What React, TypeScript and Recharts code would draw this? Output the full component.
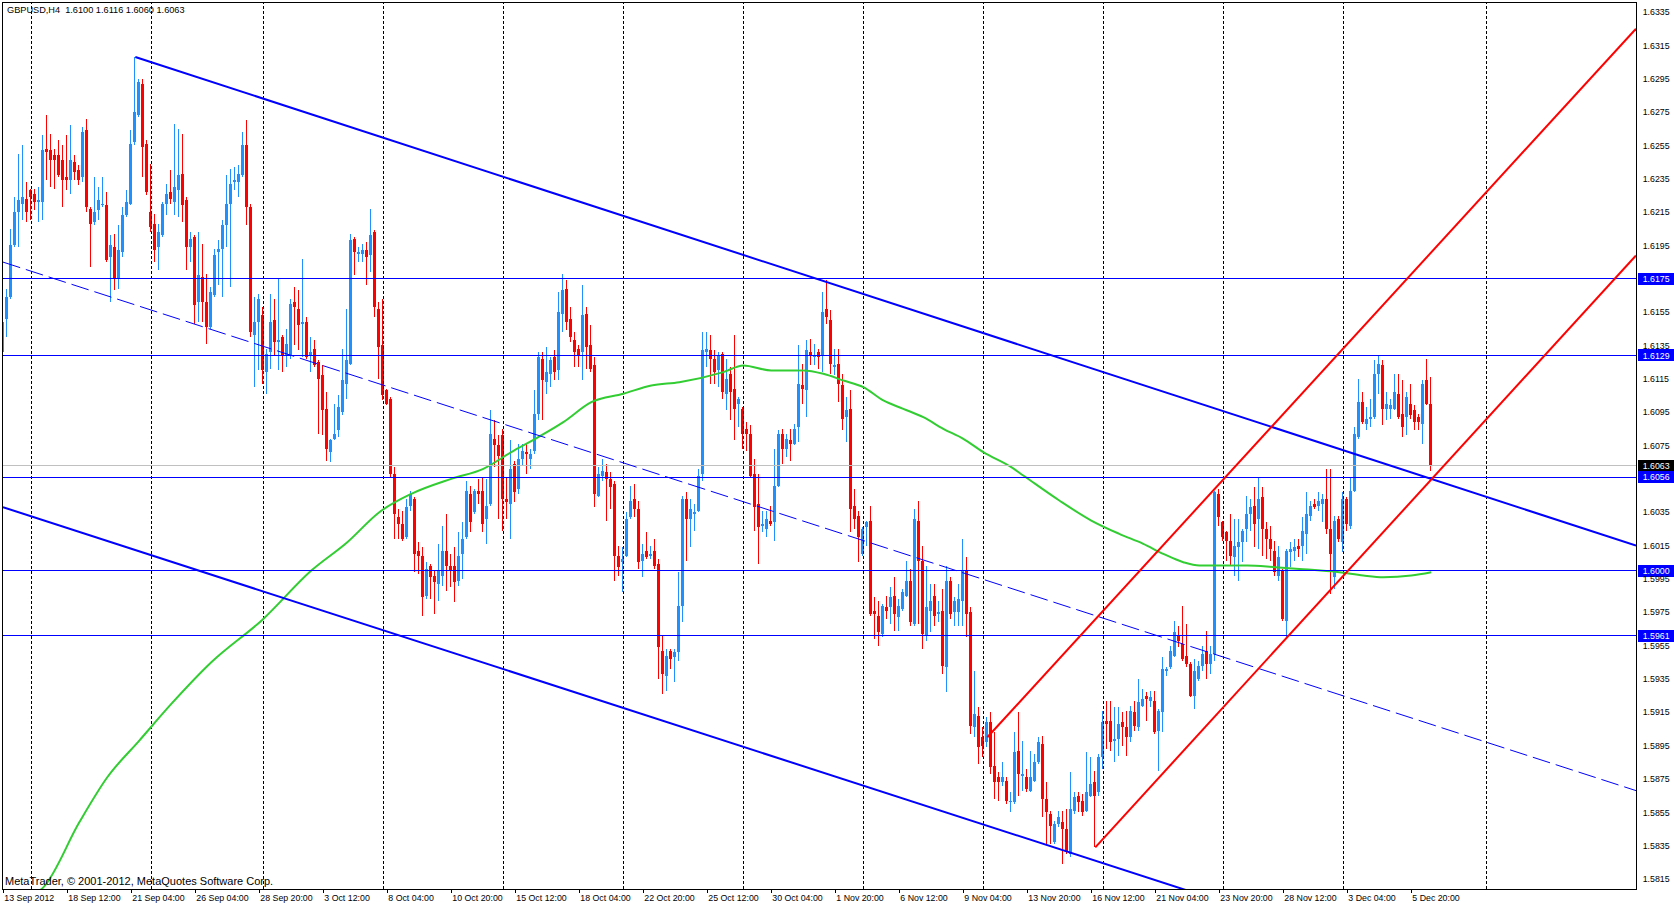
import React from "react";
import { ComposedChart, XAxis, YAxis, Bar, Line, ReferenceLine } from "recharts";

const FONT = "'Liberation Sans', Arial, sans-serif";
const BULL = "#1E90FF";
const BEAR = "#FF0000";
const LEVEL = "#0000FF";

// H4 bars, oldest first
const opens = [
  1.6131,1.6151,1.6164,1.6195,1.6215,1.6220,1.6223,1.6228,1.6226,1.6221,
  1.6221,1.6253,1.6252,1.6249,1.6249,1.6246,1.6236,1.6234,1.6245,1.6240,
  1.6236,1.6264,1.6217,1.6209,1.6216,1.6219,1.6219,1.6188,1.6194,1.6175,
  1.6191,1.6213,1.6220,1.6257,1.6273,1.6292,1.6256,1.6215,1.6208,1.6194,
  1.6201,1.6220,1.6227,1.6221,1.6228,1.6238,1.6222,1.6194,1.6200,1.6161,
  1.6176,1.6161,1.6146,1.6165,1.6191,1.6193,1.6207,1.6220,1.6233,1.6233,
  1.6237,1.6255,1.6218,1.6141,1.6149,1.6153,1.6119,1.6131,1.6150,1.6137,
  1.6140,1.6129,1.6129,1.6161,1.6157,1.6148,1.6149,1.6129,1.6133,1.6125,
  1.6117,1.6097,1.6071,1.6079,1.6084,1.6095,1.6112,1.6124,1.6199,1.6190,
  1.6190,1.6192,1.6189,1.6203,1.6157,1.6135,1.6108,1.6103,1.6058,1.6032,
  1.6028,1.6020,1.6039,1.6043,1.6012,1.6009,1.5985,1.6003,1.5997,1.5992,
  1.5997,1.6012,1.6003,1.6003,1.5994,1.6010,1.6020,1.6046,1.6035,1.6048,
  1.6048,1.6031,1.6040,1.6079,1.6075,1.6081,1.6043,1.6040,1.6064,1.6049,
  1.6067,1.6071,1.6067,1.6072,1.6094,1.6127,1.6113,1.6118,1.6128,1.6120,
  1.6154,1.6169,1.6151,1.6138,1.6133,1.6131,1.6154,1.6135,1.6123,1.6045,
  1.6057,1.6059,1.6055,1.6052,1.6009,1.6005,1.6009,1.6032,1.6043,1.6037,
  1.6006,1.6012,1.6009,1.6012,1.6004,1.5952,1.5937,1.5952,1.5948,1.5951,
  1.5979,1.6043,1.6031,1.6034,1.6036,1.6058,1.6131,1.6132,1.6127,1.6120,
  1.6130,1.6106,1.6118,1.6109,1.6100,1.6097,1.6085,1.6082,1.6058,1.6040,
  1.6027,1.6025,1.6030,1.6029,1.6051,1.6082,1.6073,1.6078,1.6076,1.6086,
  1.6111,1.6108,1.6131,1.6128,1.6131,1.6129,1.6157,1.6150,1.6122,1.6124,
  1.6111,1.6092,1.6097,1.6039,1.6033,1.6010,1.6026,1.6030,1.5976,1.5973,
  1.5962,1.5978,1.5978,1.5985,1.5972,1.5977,1.5985,1.5994,1.5968,1.6030,
  1.6006,1.5961,1.5976,1.5985,1.5974,1.5976,1.5942,1.5994,1.5975,1.5975,
  1.5982,1.6000,1.5975,1.5906,1.5913,1.5900,1.5897,1.5909,1.5883,1.5876,
  1.5873,1.5874,1.5861,1.5861,1.5892,1.5877,1.5876,1.5868,1.5874,1.5885,
  1.5896,1.5863,1.5854,1.5837,1.5848,1.5849,1.5845,1.5830,1.5856,1.5865,
  1.5862,1.5856,1.5865,1.5873,1.5867,1.5888,1.5910,1.5910,1.5898,1.5899,
  1.5909,1.5906,1.5900,1.5915,1.5906,1.5919,1.5925,1.5922,1.5922,1.5904,
  1.5915,1.5940,1.5942,1.5949,1.5961,1.5956,1.5949,1.5944,1.5925,1.5935,
  1.5943,1.5952,1.5944,1.5950,1.6046,1.6029,1.6023,1.6018,1.6008,1.6014,
  1.6017,1.6025,1.6034,1.6039,1.6031,1.6044,1.6025,1.6019,1.6012,1.5997,
  1.6000,1.5970,1.6011,1.6012,1.6015,1.6015,1.6022,1.6033,1.6040,1.6039,
  1.6040,1.6043,1.6025,1.5996,1.6031,1.6017,1.6043,1.6027,1.6048,1.6080,
  1.6101,1.6088,1.6091,1.6092,1.6118,1.6123,1.6097,1.6097,1.6097,1.6106,
  1.6094,1.6092,1.6100,1.6096,1.6092,1.6088,1.6114,1.6100,
];

const highs = [
  1.6174,1.6169,1.6205,1.6224,1.6250,1.6255,1.6233,1.6229,1.6229,1.6230,
  1.6261,1.6273,1.6262,1.6253,1.6258,1.6255,1.6261,1.6267,1.6249,1.6243,
  1.6266,1.6271,1.6218,1.6236,1.6230,1.6236,1.6227,1.6201,1.6202,1.6207,
  1.6218,1.6228,1.6264,1.6308,1.6295,1.6295,1.6258,1.6244,1.6214,1.6208,
  1.6221,1.6232,1.6240,1.6268,1.6265,1.6262,1.6224,1.6203,1.6201,1.6203,
  1.6196,1.6178,1.6170,1.6193,1.6198,1.6210,1.6237,1.6241,1.6242,1.6243,
  1.6263,1.6270,1.6220,1.6164,1.6166,1.6158,1.6133,1.6166,1.6163,1.6175,
  1.6141,1.6145,1.6163,1.6170,1.6168,1.6187,1.6152,1.6140,1.6138,1.6126,
  1.6123,1.6107,1.6079,1.6100,1.6105,1.6133,1.6157,1.6202,1.6200,1.6194,
  1.6196,1.6197,1.6217,1.6204,1.6161,1.6163,1.6109,1.6104,1.6062,1.6037,
  1.6036,1.6043,1.6048,1.6044,1.6017,1.6014,1.6005,1.6004,1.6000,1.6016,
  1.6027,1.6034,1.6010,1.6014,1.6023,1.6029,1.6054,1.6051,1.6049,1.6055,
  1.6056,1.6055,1.6096,1.6090,1.6081,1.6085,1.6056,1.6078,1.6066,1.6076,
  1.6076,1.6076,1.6073,1.6108,1.6131,1.6131,1.6134,1.6128,1.6132,1.6167,
  1.6178,1.6174,1.6158,1.6143,1.6135,1.6171,1.6158,1.6147,1.6128,1.6062,
  1.6067,1.6064,1.6059,1.6054,1.6015,1.6014,1.6035,1.6051,1.6052,1.6042,
  1.6016,1.6023,1.6015,1.6019,1.6007,1.5961,1.5953,1.5953,1.5953,1.5999,
  1.6045,1.6047,1.6043,1.6040,1.6061,1.6143,1.6143,1.6141,1.6132,1.6131,
  1.6131,1.6127,1.6122,1.6141,1.6104,1.6098,1.6089,1.6087,1.6067,1.6058,
  1.6036,1.6036,1.6039,1.6073,1.6084,1.6085,1.6082,1.6085,1.6088,1.6135,
  1.6124,1.6138,1.6139,1.6136,1.6133,1.6167,1.6174,1.6156,1.6133,1.6133,
  1.6118,1.6104,1.6108,1.6049,1.6036,1.6026,1.6030,1.6039,1.5984,1.5982,
  1.5980,1.5985,1.5990,1.5996,1.5983,1.5989,1.6006,1.6001,1.6037,1.6042,
  1.6015,1.6003,1.5992,1.5992,1.5982,1.5989,1.6003,1.5996,1.5984,1.5992,
  1.6019,1.6008,1.5978,1.5940,1.5918,1.5906,1.5912,1.5915,1.5903,1.5879,
  1.5885,1.5876,1.5867,1.5903,1.5915,1.5898,1.5881,1.5892,1.5890,1.5900,
  1.5901,1.5873,1.5856,1.5850,1.5856,1.5856,1.5857,1.5879,1.5867,1.5867,
  1.5866,1.5891,1.5888,1.5880,1.5890,1.5916,1.5922,1.5922,1.5918,1.5918,
  1.5915,1.5916,1.5919,1.5922,1.5935,1.5929,1.5927,1.5928,1.5928,1.5917,
  1.5948,1.5942,1.5955,1.5970,1.5967,1.5979,1.5968,1.5945,1.5947,1.5946,
  1.5955,1.5964,1.5955,1.6048,1.6049,1.6030,1.6024,1.6034,1.6031,1.6031,
  1.6025,1.6045,1.6043,1.6050,1.6056,1.6050,1.6029,1.6027,1.6018,1.6015,
  1.6001,1.6013,1.6017,1.6019,1.6019,1.6032,1.6047,1.6042,1.6043,1.6047,
  1.6046,1.6061,1.6061,1.6033,1.6033,1.6047,1.6044,1.6056,1.6086,1.6115,
  1.6107,1.6098,1.6103,1.6126,1.6129,1.6126,1.6107,1.6103,1.6118,1.6118,
  1.6114,1.6107,1.6112,1.6099,1.6094,1.6114,1.6127,1.6116,
];

const lows = [
  1.6130,1.6140,1.6163,1.6194,1.6194,1.6210,1.6209,1.6210,1.6216,1.6209,
  1.6210,1.6234,1.6230,1.6229,1.6236,1.6218,1.6228,1.6226,1.6234,1.6231,
  1.6233,1.6215,1.6182,1.6207,1.6210,1.6218,1.6185,1.6161,1.6168,1.6169,
  1.6188,1.6212,1.6219,1.6255,1.6272,1.6236,1.6225,1.6203,1.6185,1.6180,
  1.6200,1.6213,1.6220,1.6213,1.6212,1.6209,1.6180,1.6185,1.6148,1.6149,
  1.6149,1.6136,1.6145,1.6164,1.6171,1.6164,1.6194,1.6170,1.6228,1.6224,
  1.6236,1.6207,1.6140,1.6110,1.6120,1.6112,1.6106,1.6121,1.6129,1.6120,
  1.6119,1.6122,1.6127,1.6135,1.6132,1.6128,1.6127,1.6119,1.6122,1.6082,
  1.6081,1.6066,1.6065,1.6078,1.6080,1.6093,1.6103,1.6123,1.6177,1.6185,
  1.6185,1.6171,1.6179,1.6152,1.6115,1.6102,1.6099,1.6056,1.6019,1.6019,
  1.6018,1.6019,1.6036,1.5999,1.5998,1.5973,1.5983,1.5983,1.5974,1.5982,
  1.5991,1.5988,1.5990,1.5981,1.5991,1.5995,1.6019,1.6023,1.6034,1.6040,
  1.6023,1.6016,1.6039,1.6062,1.6031,1.6024,1.6031,1.6019,1.6041,1.6046,
  1.6063,1.6058,1.6061,1.6070,1.6090,1.6090,1.6106,1.6110,1.6114,1.6114,
  1.6143,1.6144,1.6137,1.6122,1.6122,1.6114,1.6121,1.6119,1.6038,1.6044,
  1.6054,1.6030,1.6037,1.5994,1.5997,1.5987,1.6008,1.6031,1.6032,1.6001,
  1.5996,1.6007,1.6007,1.6001,1.5935,1.5926,1.5928,1.5941,1.5933,1.5946,
  1.5969,1.6006,1.6014,1.6024,1.6035,1.6054,1.6122,1.6112,1.6112,1.6110,
  1.6103,1.6096,1.6090,1.6078,1.6086,1.6073,1.6072,1.6056,1.6024,1.6004,
  1.6023,1.6020,1.6027,1.6018,1.6050,1.6064,1.6068,1.6066,1.6075,1.6077,
  1.6100,1.6092,1.6123,1.6123,1.6121,1.6119,1.6148,1.6118,1.6117,1.6101,
  1.6084,1.6077,1.6023,1.6025,1.6005,1.6009,1.6015,1.5973,1.5959,1.5955,
  1.5960,1.5971,1.5968,1.5964,1.5964,1.5976,1.5984,1.5967,1.5967,1.5968,
  1.5953,1.5958,1.5963,1.5967,1.5969,1.5938,1.5927,1.5971,1.5967,1.5967,
  1.5967,1.5960,1.5902,1.5900,1.5884,1.5888,1.5894,1.5878,1.5863,1.5862,
  1.5871,1.5860,1.5855,1.5860,1.5865,1.5868,1.5867,1.5867,1.5873,1.5884,
  1.5852,1.5836,1.5836,1.5836,1.5846,1.5824,1.5830,1.5828,1.5854,1.5855,
  1.5853,1.5855,1.5864,1.5834,1.5865,1.5881,1.5893,1.5892,1.5885,1.5889,
  1.5895,1.5889,1.5897,1.5904,1.5904,1.5918,1.5910,1.5918,1.5902,1.5880,
  1.5903,1.5937,1.5941,1.5948,1.5954,1.5946,1.5942,1.5924,1.5917,1.5934,
  1.5940,1.5935,1.5938,1.5946,1.6027,1.6018,1.6006,1.6003,1.5997,1.5994,
  1.6005,1.6017,1.6024,1.6014,1.6013,1.6009,1.6007,1.6006,1.5997,1.5994,
  1.5970,1.5960,1.6002,1.6006,1.6008,1.6006,1.6010,1.6030,1.6037,1.6036,
  1.6029,1.6022,1.5986,1.5989,1.6017,1.6011,1.6024,1.6025,1.6047,1.6079,
  1.6088,1.6084,1.6086,1.6091,1.6106,1.6087,1.6090,1.6091,1.6096,1.6091,
  1.6080,1.6081,1.6091,1.6084,1.6084,1.6076,1.6099,1.6060,
];

const closes = [
  1.6149,1.6164,1.6195,1.6215,1.6222,1.6224,1.6215,1.6224,1.6221,1.6222,
  1.6252,1.6251,1.6246,1.6246,1.6237,1.6234,1.6234,1.6246,1.6239,1.6234,
  1.6263,1.6218,1.6208,1.6215,1.6222,1.6220,1.6186,1.6195,1.6175,1.6192,
  1.6213,1.6221,1.6256,1.6275,1.6293,1.6254,1.6227,1.6206,1.6192,1.6203,
  1.6220,1.6226,1.6223,1.6230,1.6237,1.6219,1.6194,1.6199,1.6159,1.6177,
  1.6161,1.6146,1.6167,1.6189,1.6193,1.6207,1.6220,1.6232,1.6234,1.6238,
  1.6255,1.6218,1.6143,1.6149,1.6163,1.6120,1.6130,1.6149,1.6137,1.6138,
  1.6129,1.6136,1.6160,1.6158,1.6147,1.6149,1.6128,1.6131,1.6123,1.6115,
  1.6096,1.6073,1.6078,1.6082,1.6098,1.6114,1.6126,1.6198,1.6191,1.6191,
  1.6192,1.6188,1.6201,1.6158,1.6134,1.6105,1.6100,1.6058,1.6034,1.6028,
  1.6019,1.6038,1.6046,1.6010,1.6009,1.5984,1.6001,1.5996,1.5993,1.6000,
  1.6012,1.6003,1.6000,1.5993,1.6009,1.6019,1.6048,1.6029,1.6048,1.6046,
  1.6028,1.6039,1.6082,1.6075,1.6069,1.6043,1.6041,1.6061,1.6047,1.6067,
  1.6072,1.6070,1.6070,1.6094,1.6128,1.6114,1.6119,1.6126,1.6119,1.6155,
  1.6168,1.6149,1.6140,1.6131,1.6129,1.6153,1.6134,1.6121,1.6046,1.6058,
  1.6060,1.6055,1.6050,1.6009,1.6002,1.6007,1.6031,1.6042,1.6037,1.6005,
  1.6010,1.6008,1.6010,1.6003,1.5954,1.5938,1.5949,1.5947,1.5951,1.5979,
  1.6043,1.6031,1.6037,1.6035,1.6057,1.6132,1.6133,1.6127,1.6119,1.6129,
  1.6107,1.6115,1.6107,1.6097,1.6103,1.6082,1.6082,1.6057,1.6038,1.6026,
  1.6028,1.6031,1.6028,1.6051,1.6082,1.6073,1.6079,1.6076,1.6085,1.6112,
  1.6109,1.6132,1.6129,1.6129,1.6128,1.6155,1.6152,1.6124,1.6123,1.6112,
  1.6091,1.6096,1.6037,1.6031,1.6020,1.6025,1.6029,1.5974,1.5974,1.5963,
  1.5979,1.5976,1.5984,1.5974,1.5979,1.5987,1.5994,1.5969,1.6031,1.6006,
  1.5962,1.5978,1.5982,1.5973,1.5975,1.5943,1.5994,1.5974,1.5982,1.5983,
  1.6000,1.5974,1.5907,1.5914,1.5894,1.5895,1.5909,1.5882,1.5873,1.5873,
  1.5876,1.5862,1.5862,1.5891,1.5878,1.5878,1.5869,1.5876,1.5885,1.5897,
  1.5863,1.5855,1.5847,1.5848,1.5852,1.5845,1.5831,1.5857,1.5864,1.5861,
  1.5855,1.5867,1.5872,1.5865,1.5888,1.5909,1.5908,1.5897,1.5899,1.5908,
  1.5906,1.5900,1.5916,1.5907,1.5921,1.5923,1.5923,1.5924,1.5903,1.5916,
  1.5941,1.5941,1.5952,1.5963,1.5958,1.5947,1.5944,1.5925,1.5940,1.5943,
  1.5950,1.5944,1.5950,1.6047,1.6032,1.6020,1.6018,1.6009,1.6015,1.6017,
  1.6024,1.6034,1.6038,1.6028,1.6043,1.6025,1.6019,1.6013,1.5999,1.6008,
  1.5971,1.6012,1.6013,1.6014,1.6013,1.6024,1.6034,1.6039,1.6038,1.6042,
  1.6043,1.6025,1.6010,1.6030,1.6019,1.6043,1.6028,1.6048,1.6082,1.6101,
  1.6089,1.6091,1.6092,1.6118,1.6124,1.6097,1.6100,1.6099,1.6107,1.6092,
  1.6086,1.6104,1.6093,1.6089,1.6089,1.6112,1.6100,1.6063,
];

// moving average at these bars
const maBars = [8, 10, 19, 26, 34, 42, 52, 65, 77, 86, 94, 102, 112, 120, 127, 133, 140, 147, 155, 162, 169, 180, 185, 192, 200, 205, 210, 215, 220, 225, 230, 235, 240, 245, 252, 255, 264, 272, 279, 285, 290, 295, 299, 311, 318, 324, 334, 340, 345, 352, 357];
const maValues = [1.5806, 1.5810, 1.5849, 1.5876, 1.5898, 1.5920, 1.5945, 1.5971, 1.6000, 1.6017, 1.6035, 1.6046, 1.6055, 1.6061, 1.6071, 1.6079, 1.6089, 1.6101, 1.6106, 1.6111, 1.6113, 1.6119, 1.6123, 1.6120, 1.6120, 1.6118, 1.6114, 1.6110, 1.6102, 1.6097, 1.6092, 1.6085, 1.6079, 1.6071, 1.6062, 1.6057, 1.6042, 1.6030, 1.6022, 1.6016, 1.6010, 1.6005, 1.6003, 1.6003, 1.6002, 1.6001, 1.5999, 1.5997, 1.5996, 1.5997, 1.5999];

const timeLabelBars = [0, 16, 32, 48, 64, 80, 96, 112, 128, 144, 160, 176, 192, 208, 224, 240, 256, 272, 288, 304, 320, 336, 352];
const timeLabels = [
  "13 Sep 2012", "18 Sep 12:00", "21 Sep 04:00", "26 Sep 04:00", "28 Sep 20:00", "3 Oct 12:00",
  "8 Oct 04:00", "10 Oct 20:00", "15 Oct 12:00", "18 Oct 04:00", "22 Oct 20:00", "25 Oct 12:00",
  "30 Oct 04:00", "1 Nov 20:00", "6 Nov 12:00", "9 Nov 04:00", "13 Nov 20:00", "16 Nov 12:00",
  "21 Nov 04:00", "23 Nov 20:00", "28 Nov 12:00", "3 Dec 04:00", "5 Dec 20:00",
];
const gridBars = [7.1, 37.1, 65.1, 95.1, 125.1, 155.1, 185.1, 215.1, 245.1, 275.1, 305.1, 335.1, 370.9];

const priceTicks = [1.6335, 1.6315, 1.6295, 1.6275, 1.6255, 1.6235, 1.6215, 1.6195, 1.6155, 1.6135, 1.6115, 1.6095, 1.6075, 1.6035, 1.6015, 1.5995, 1.5975, 1.5955, 1.5935, 1.5915, 1.5895, 1.5875, 1.5855, 1.5835, 1.5815];
const levelPrices = [1.6175, 1.6129, 1.6056, 1.6, 1.5961];
const bidPrice = 1.6063;

// trendlines as [bar, price] pairs
const blueChannelTop = [[33, 1.6308], [408.175, 1.6015]];
const blueChannelBottom = [[-0.075, 1.6038], [408.175, 1.5721]];
const blueChannelMid = [[-0.075, 1.6185], [408.175, 1.5868]];
const redChannelTop = [[246, 1.59], [408.175, 1.6325]];
const redChannelBottom = [[273, 1.5834], [408.175, 1.6189]];

const X_DOMAIN = [-0.075, 408.175];
const Y_DOMAIN = [1.5809, 1.63404];

const maByBar = new Map(maBars.map((b, k) => [b, maValues[k]]));
const rows = opens.map((o, i) => ({
  i,
  open: o,
  high: highs[i],
  low: lows[i],
  close: closes[i],
  range: [lows[i], highs[i]],
  ma: maByBar.has(i) ? maByBar.get(i) : null,
}));

function Candle(props: any) {
  const { x, y, width, height, payload } = props;
  if (!payload || x == null || y == null) return null;
  const { open, close, high, low } = payload;
  const top = Math.min(y, y + height);
  const span = Math.abs(height);
  const toY = (p: number) => (high === low ? top : top + ((high - p) / (high - low)) * span);
  const cx = Math.round(x + width / 2 - 0.5);
  const color = close >= open ? BULL : BEAR;
  const yH = Math.round(toY(high));
  const yL = Math.round(toY(low));
  const bTop = Math.round(Math.min(toY(open), toY(close)));
  const bBot = Math.round(Math.max(toY(open), toY(close)));
  return (
    <g shapeRendering="crispEdges">
      <rect x={cx} y={yH} width={1} height={Math.max(1, yL - yH)} fill={color} />
      <rect x={cx - 1} y={bTop} width={3} height={Math.max(1, bBot - bTop)} fill={color} />
    </g>
  );
}

function TimeTick(props: any) {
  const { x, y, payload } = props;
  const k = timeLabelBars.indexOf(payload.value);
  return (
    <g>
      <line x1={x} y1={y} x2={x} y2={y + 4} stroke="#000" shapeRendering="crispEdges" />
      <text x={x + 1} y={y + 12} fontSize={8.8} fontFamily={FONT} fill="#000" textAnchor="start">
        {k >= 0 ? timeLabels[k] : ""}
      </text>
    </g>
  );
}

function PriceTick(props: any) {
  const { x, y, payload } = props;
  return (
    <text x={x + 6.7} y={y + 3.2} fontSize={8.8} fontFamily={FONT} fill="#000" textAnchor="start">
      {Number(payload.value).toFixed(4)}
    </text>
  );
}

function priceTag(text: string, bg: string) {
  return (props: any) => {
    const vb = props && props.viewBox;
    if (!vb) return null;
    const right = vb.x + vb.width;
    return (
      <g>
        <rect x={right + 2} y={Math.round(vb.y) - 6} width={36} height={12} fill={bg} shapeRendering="crispEdges" />
        <text x={right + 6.7} y={vb.y + 3.2} fontSize={8.8} fontFamily={FONT} fill="#fff" textAnchor="start">
          {text}
        </text>
      </g>
    );
  };
}

const seg = (pts: number[][]) => pts.map(([x, y]) => ({ x, y }));

export default function App() {
  return (
    <div style={{ position: "relative", width: 1674, height: 906, background: "#fff", overflow: "hidden" }}>
      <style>{"body{margin:0;background:#fff}"}</style>
      <ComposedChart width={1674} height={906} data={rows} margin={{ top: 3, right: 0, bottom: 0, left: 3 }}>
        <XAxis
          dataKey="i"
          type="number"
          domain={X_DOMAIN}
          allowDataOverflow
          ticks={timeLabelBars}
          interval={0}
          height={17}
          tickSize={0}
          tickMargin={0}
          tickLine={false}
          axisLine={false}
          tick={<TimeTick />}
        />
        <YAxis
          orientation="right"
          type="number"
          domain={Y_DOMAIN}
          allowDataOverflow
          ticks={priceTicks}
          interval={0}
          width={38}
          tickSize={0}
          tickMargin={0}
          tickLine={false}
          axisLine={false}
          tick={<PriceTick />}
        />
        {gridBars.map((b) => (
          <ReferenceLine key={"g" + b} x={b} stroke="#000" strokeDasharray="3 2" strokeWidth={1} shapeRendering="crispEdges" />
        ))}
        <Bar dataKey="range" barSize={3} shape={<Candle />} isAnimationActive={false} />
        <Line dataKey="ma" type="monotone" stroke="#32CD32" strokeWidth={2} dot={false} activeDot={false} connectNulls isAnimationActive={false} />
        <ReferenceLine y={bidPrice} stroke="#C0C0C0" strokeWidth={1} shapeRendering="crispEdges" label={priceTag(bidPrice.toFixed(4), "#000")} />
        {levelPrices.map((p) => (
          <ReferenceLine key={"l" + p} y={p} stroke={LEVEL} strokeWidth={1} shapeRendering="crispEdges" label={priceTag(p.toFixed(4), LEVEL)} />
        ))}
        <ReferenceLine segment={seg(blueChannelMid)} stroke={LEVEL} strokeWidth={1} strokeDasharray="18 6" ifOverflow="hidden" />
        <ReferenceLine segment={seg(blueChannelTop)} stroke={LEVEL} strokeWidth={2} ifOverflow="hidden" />
        <ReferenceLine segment={seg(blueChannelBottom)} stroke={LEVEL} strokeWidth={2} ifOverflow="hidden" />
        <ReferenceLine segment={seg(redChannelTop)} stroke="#FF0000" strokeWidth={2} ifOverflow="hidden" />
        <ReferenceLine segment={seg(redChannelBottom)} stroke="#FF0000" strokeWidth={2} ifOverflow="hidden" />
      </ComposedChart>
      <div style={{ position: "absolute", left: 2, top: 2, width: 1633, height: 886, border: "1px solid #000", pointerEvents: "none" }} />
      <div style={{ position: "absolute", left: 7, top: 4, fontFamily: FONT, fontSize: 9.2, lineHeight: "12px", color: "#000", whiteSpace: "pre" }}>
        {"GBPUSD,H4  1.6100 1.6116 1.6060 1.6063"}
      </div>
      <div style={{ position: "absolute", left: 5, top: 875, fontFamily: FONT, fontSize: 11, lineHeight: "12px", color: "#000", whiteSpace: "pre" }}>
        {"MetaTrader, © 2001-2012, MetaQuotes Software Corp."}
      </div>
    </div>
  );
}
